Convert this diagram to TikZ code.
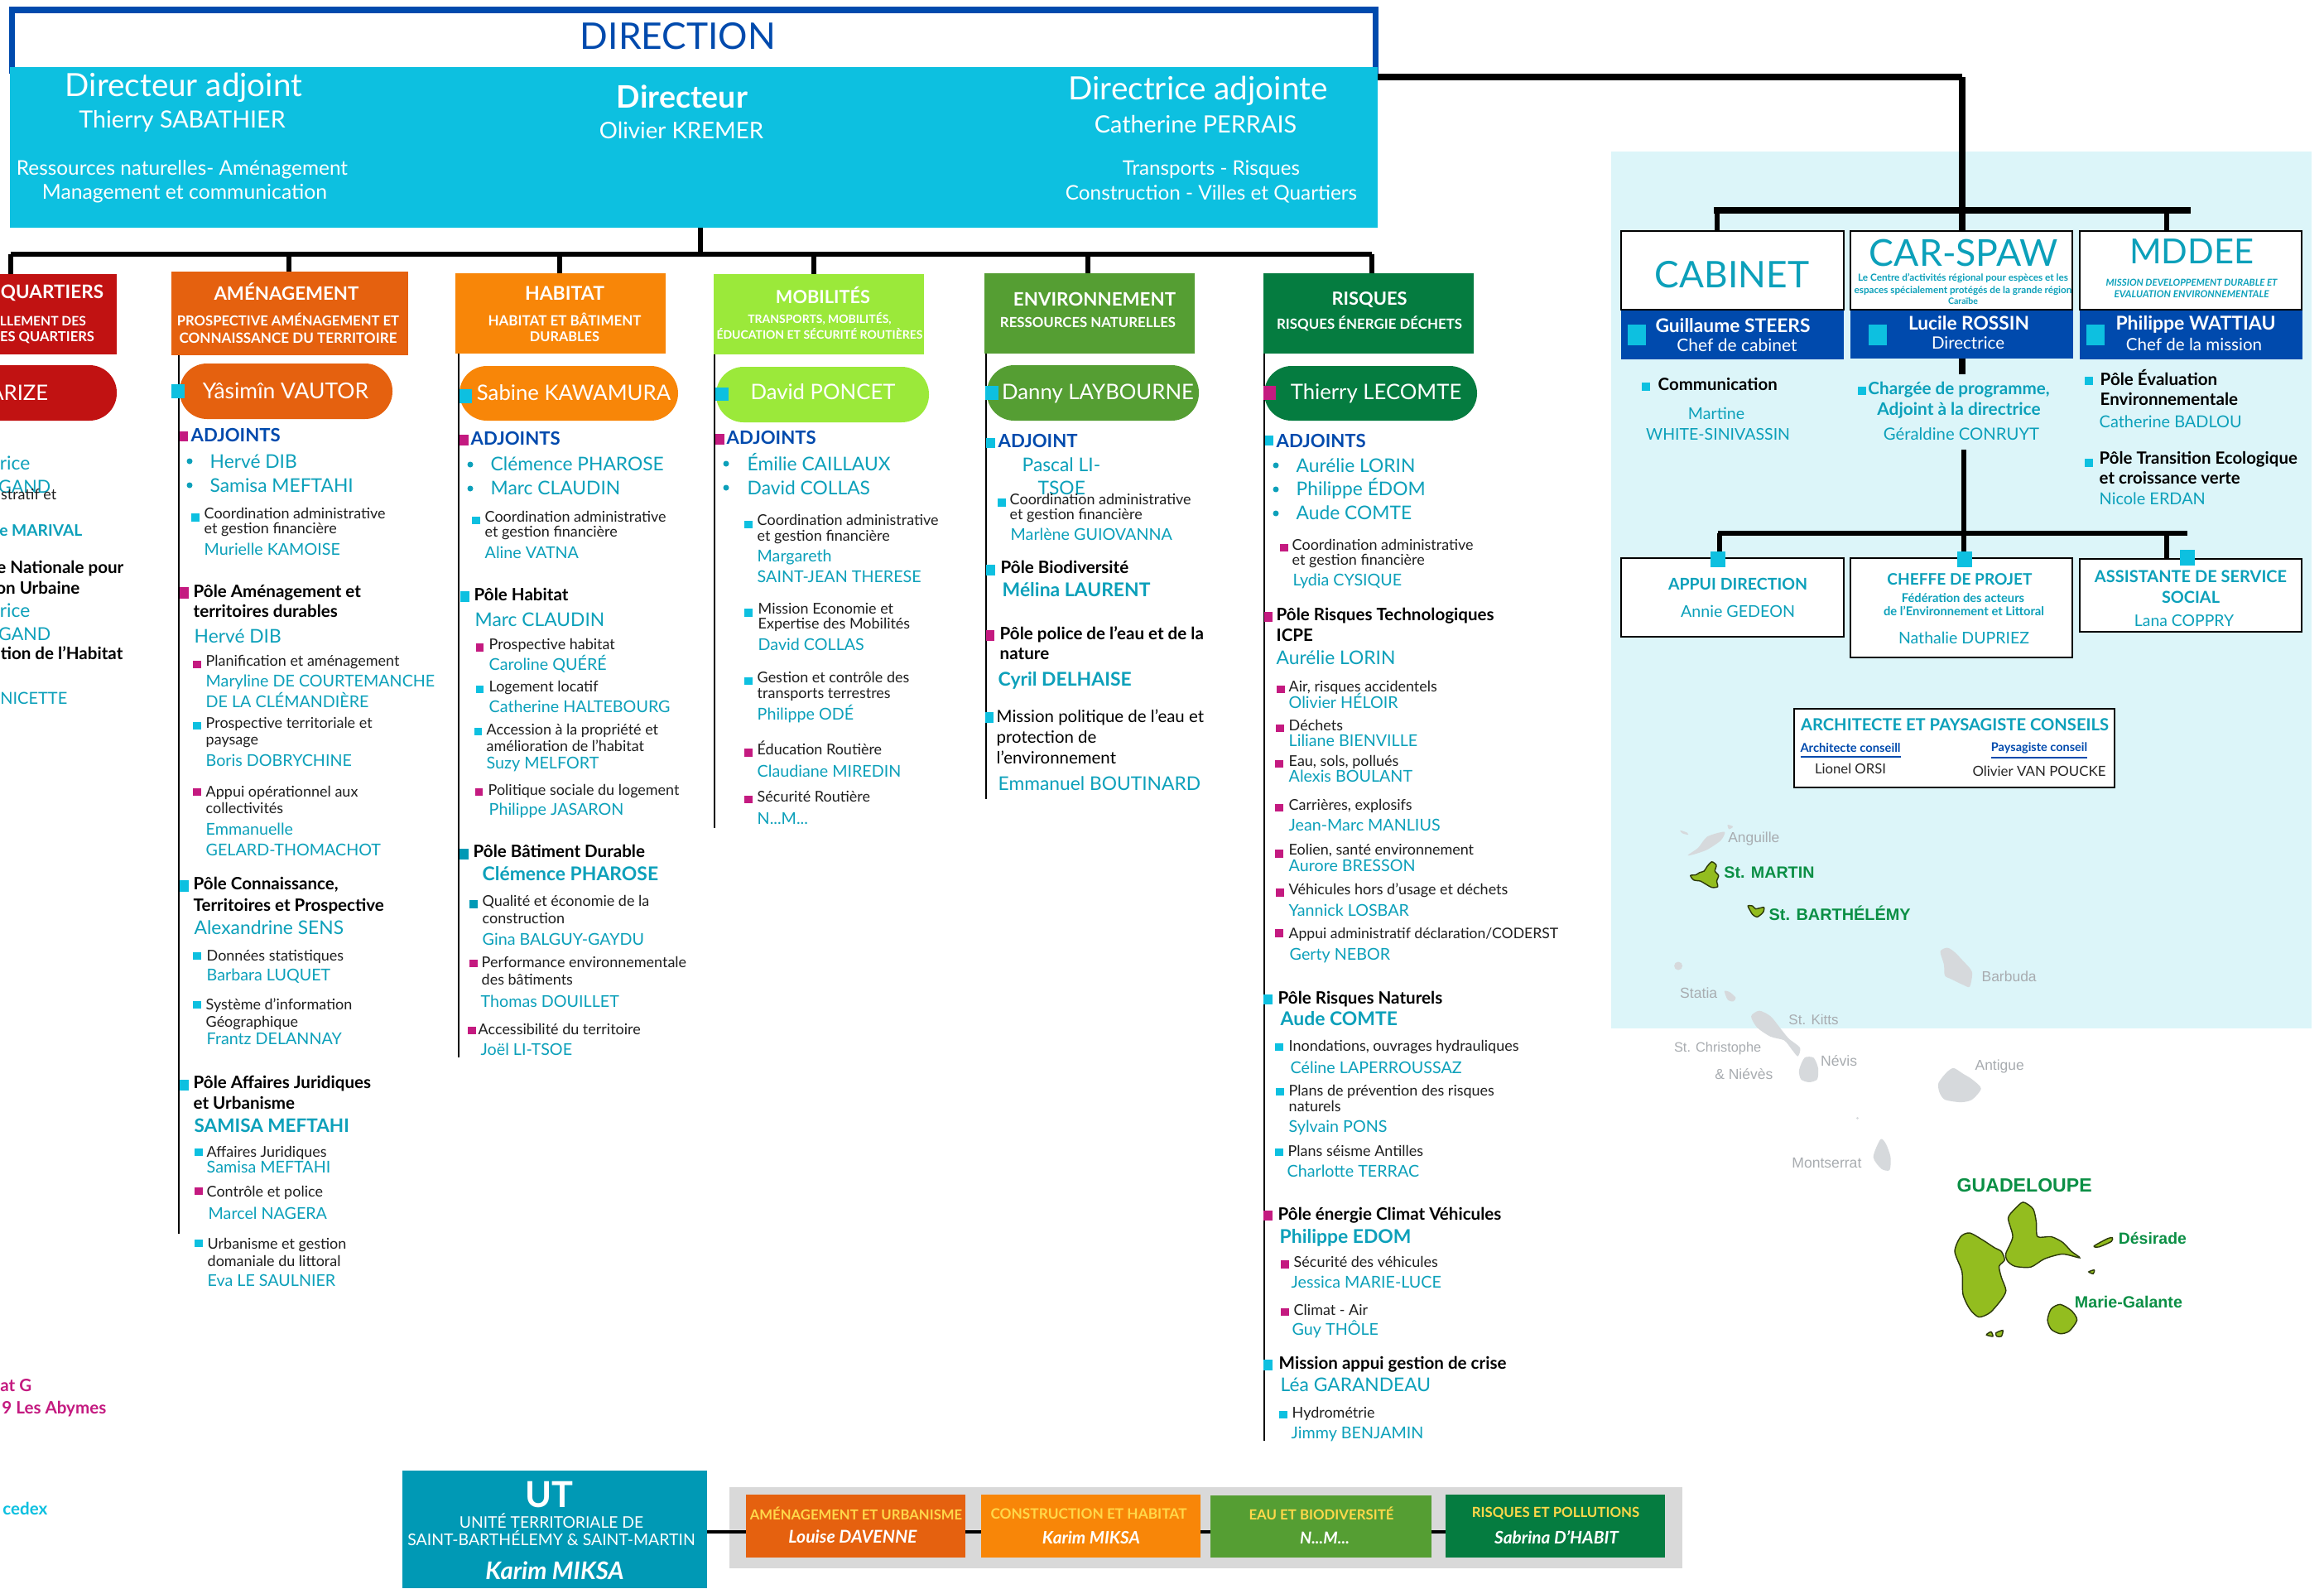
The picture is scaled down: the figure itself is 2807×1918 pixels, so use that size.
\documentclass[tikz,border=0pt]{standalone}
\usepackage{fontspec}
\setmainfont{Lato}
\newfontfamily\mapfont{Liberation Sans}
\definecolor{ccyan}{HTML}{0DC0E0}
\definecolor{cblue}{HTML}{004AAD}
\definecolor{cteal}{HTML}{0CA0BA}
\definecolor{cmag}{HTML}{C41A80}
\definecolor{cred}{HTML}{C11212}
\definecolor{corg}{HTML}{E5610F}
\definecolor{corb}{HTML}{F88608}
\definecolor{clime}{HTML}{9BE93A}
\definecolor{cgrn}{HTML}{559E33}
\definecolor{cdgr}{HTML}{057C40}
\definecolor{cut}{HTML}{0099B5}
\definecolor{cbg}{HTML}{DCF5F9}
\definecolor{cgray}{HTML}{D9D9D9}
\definecolor{cyel}{HTML}{FFD84A}
\definecolor{cisl}{HTML}{D6D9DC}
\definecolor{cisg}{HTML}{93BD1F}
\definecolor{cmapg}{HTML}{0B8F45}
\definecolor{cmapn}{HTML}{A8ACB0}
\newsavebox\fitbox
\newcommand\fitsize[2]{\sbox\fitbox{\fontsize{10}{10}\selectfont #2}\edef\fitsz{\fpeval{round(10*#1*0.28453/\the\wd\fitbox,2)}}\fontsize{\fitsz}{\fitsz}\selectfont}
\newcommand\fitT[2]{\fitsize{#1}{#2}#2}
\newcounter{tn}
\newcommand\Bx[6]{\pgfmathsetmacro\bw{(#4-#2)*0.01}\pgfmathsetmacro\bh{(#5-#3)*0.01}\node[#6,inner sep=0,outer sep=0,minimum width=\bw cm,minimum height=\bh cm] (#1) at ({(#2+#4)/2},{(#3+#5)/2}) {};}
\newcommand\Ct[5]{\stepcounter{tn}\node[#1,inner sep=0,anchor=center] (t\arabic{tn}) at (#2,#3) {\fitT{#4}{#5}};}
\newcommand\Tx[4]{\stepcounter{tn}\node[#1] (t\arabic{tn}) at (#2,#3) {#4};}
\newcommand\tLab[3]{\Tx{lab}{#1}{#2}{#3}}
\newcommand\tNam[3]{\Tx{nm}{#1}{#2}{#3}}
\newcommand\tHd[3]{\Tx{hd}{#1}{#2}{#3}}
\newcommand\tBig[3]{\Tx{bign}{#1}{#2}{#3}}
\newcommand\tLd[3]{\Tx{lead}{#1}{#2}{#3}}
\newcommand\tAdj[3]{\Tx{adj}{#1}{#2}{#3}}
\newcommand\Sq[5]{\fill[#1] (#2,#3) rectangle (#4,#5);}
\newcommand\Bul[2]{\fill[cteal] (#1,#2) circle[radius=3.5];}
\newcommand\Isl[2]{\fill[#1] plot[smooth cycle,tension=.45] coordinates {#2};}
\tikzset{
 lab/.style={anchor=base west,inner sep=0,text=black!88,font=\fitsize{219}{Coordination administrative}},
 nm/.style={anchor=base west,inner sep=0,text=cteal,font=\fitsize{164}{Murielle KAMOISE}},
 hd/.style={anchor=base west,inner sep=0,text=black,font=\bfseries\fitsize{230}{Territoires et Prospective}},
 bign/.style={anchor=base west,inner sep=0,text=cteal,font=\fitsize{173}{Samisa MEFTAHI}},
 lead/.style={anchor=base west,inner sep=0,text=cteal,font=\bfseries\fitsize{184}{Alexandrine SENS}},
 adj/.style={anchor=base west,inner sep=0,text=cblue,font=\bfseries\fitsize{108}{ADJOINTS}},
 wht/.style={text=white},
 whb/.style={text=white,font=\bfseries},
 tl/.style={text=cteal},
 tlb/.style={text=cteal,font=\bfseries},
 pill/.style={fill=#1,rounded corners=9.4pt},
 pilltx/.style={text=white,inner sep=0,anchor=center,font=\fitsize{234}{Sabine KAWAMURA}},
 conn/.style={draw=black,line width=1.6pt},
 heavy/.style={draw=black,line width=2.3pt},
 vline/.style={draw=black,line width=.75pt},
 wbox/.style={draw=black,fill=white,line width=.8pt},
 mapg/.style={text=cmapg,font=\mapfont\bfseries},
 mapn/.style={text=cmapn,font=\mapfont},
 gisl/.style={cisg,draw=black!70!cisg,line width=.4pt},
}
\begin{document}
\begin{tikzpicture}[x=0.01cm,y=-0.01cm]
\useasboundingbox (0,0) rectangle (2807,1918);
\fill[white] (0,0) rectangle (2807,1918);
\path[clip] (0,0) rectangle (2807,1918);
% light panel
\Bx{panel}{1946}{183}{2792}{1242}{fill=cbg}
% direction
\Bx{dirtitle}{15}{12}{1661}{85}{draw=cblue,fill=white,line width=2pt}
\Bx{dirbox}{12}{81}{1664}{275}{fill=ccyan}
\Ct{text=cblue}{819}{44}{236}{DIRECTION}
\Ct{wht}{222}{106}{286}{Directeur adjoint}
\Ct{wht}{220}{146}{249}{Thierry SABATHIER}
\Ct{wht}{220}{205}{400}{Ressources naturelles- Aménagement}
\Ct{wht}{223}{234}{344}{Management et communication}
\Ct{whb}{824}{117}{158}{Directeur}
\Ct{wht}{823}{157}{198}{Olivier KREMER}
\Ct{wht}{1447}{110}{313}{Directrice adjointe}
\Ct{wht}{1444}{150}{244}{Catherine PERRAIS}
\Ct{wht}{1463}{205}{214}{Transports - Risques}
\Ct{wht}{1463}{234}{352}{Construction - Villes et Quartiers}
% headers
\Bx{hvil}{-60}{331}{141}{428}{fill=cred}
\Bx{hamen}{207}{328}{493}{429}{fill=corg}
\Bx{hhab}{550}{330}{804}{427}{fill=corb}
\Bx{hmob}{862}{331}{1116}{428}{fill=clime}
\Bx{henv}{1189}{330}{1443}{427}{fill=cgrn}
\Bx{hris}{1526}{330}{1780}{427}{fill=cdgr}
% bus
\coordinate (busL) at (13,307);
\coordinate (busR) at (1657,307);
\coordinate (dirhub) at (846,307);
\coordinate (dv) at (13,307);
\coordinate (da) at (349,307);
\coordinate (dh) at (676,307);
\coordinate (dm) at (983,307);
\coordinate (de) at (1314,307);
\coordinate (dr) at (1657,307);
\draw[conn] (dirhub |- dirbox.south) -- (dirhub);
\draw[conn] (busL) -- (busR);
\draw[conn] (dv) -- (dv |- hvil.north);
\draw[conn] (da) -- (da |- hamen.north);
\draw[conn] (dh) -- (dh |- hhab.north);
\draw[conn] (dm) -- (dm |- hmob.north);
\draw[conn] (de) -- (de |- henv.north);
\draw[conn] (dr) -- (dr |- hris.north);
% column rules
\coordinate (va) at (216,1490);
\coordinate (vh) at (554,1277);
\coordinate (vm) at (863,1000);
\coordinate (ve) at (1191,965);
\coordinate (vr) at (1527,1740);
\draw[vline] (va |- hamen.south) -- (va);
\draw[vline] (vh |- hhab.south) -- (vh);
\draw[vline] (vm |- hmob.south) -- (vm);
\draw[vline] (ve |- henv.south) -- (ve);
\draw[vline] (vr |- hris.south) -- (vr);
% header text
\Ct{whb}{63}{354}{124}{QUARTIERS}
\Ct{whb}{52}{388}{104}{LLEMENT DES}
\Ct{whb}{57}{408}{114}{ES QUARTIERS}
\Ct{whb}{346}{352}{175}{AMÉNAGEMENT}
\Ct{whb}{348}{386}{268}{PROSPECTIVE AMÉNAGEMENT ET}
\Ct{whb}{348}{408}{263}{CONNAISSANCE DU TERRITOIRE}
\Ct{whb}{682}{354}{96}{HABITAT}
\Ct{whb}{682}{386}{185}{HABITAT ET BÂTIMENT}
\Ct{whb}{682}{407}{84}{DURABLES}
\Ct{whb}{994}{356}{114}{MOBILITÉS}
\Ct{whb}{990}{385}{173}{TRANSPORTS, MOBILITÉS,}
\Ct{whb}{990}{403}{249}{ÉDUCATION ET SÉCURITÉ ROUTIÈRES}
\Ct{whb}{1322}{361}{196}{ENVIRONNEMENT}
\Ct{whb}{1314}{389}{212}{RESSOURCES NATURELLES}
\Ct{whb}{1654}{362}{91}{RISQUES}
\Ct{whb}{1654}{391}{224}{RISQUES ÉNERGIE DÉCHETS}
% pills
\Bx{p1}{-60}{441}{141}{508}{pill=cred}
\Bx{p2}{217}{439}{474}{506}{pill=corg}
\Bx{p3}{555}{442}{819}{508}{pill=corb}
\Bx{p4}{865}{443}{1122}{510}{pill=clime}
\Bx{p5}{1192}{441}{1448}{508}{pill=cgrn}
\Bx{p6}{1527}{442}{1784}{508}{pill=cdgr}
\Tx{pilltx,anchor=east}{59}{474}{ARIZE}
\Tx{pilltx,font=\fitsize{200}{Yâsimîn VAUTOR}}{345}{472}{Yâsimîn VAUTOR}
\Tx{pilltx}{693}{474}{Sabine KAWAMURA}
\Tx{pilltx}{994}{473}{David PONCET}
\Tx{pilltx}{1326}{475}{Danny LAYBOURNE}
\Tx{pilltx}{1662}{475}{Thierry LECOMTE}
\Sq{ccyan}{207}{464}{223}{481}
\Sq{ccyan}{555}{470}{570}{487}
\Sq{ccyan}{864}{468}{880}{484}
\Sq{ccyan}{1190}{466}{1206}{483}
\Sq{cmag}{1526}{466}{1541}{483}
% left cropped column
\Tx{bign,anchor=base east}{37}{567}{rice}
\Tx{bign,anchor=base east,font=\fitsize{63}{GAND}}{62}{595}{GAND}
\Tx{lab,anchor=base east}{69}{603}{istratif et}
\Tx{lead,anchor=base east,font=\bfseries\fitsize{100}{e MARIVAL}}{100}{647}{e MARIVAL}
\Tx{hd,anchor=base east}{150}{692}{e Nationale pour}
\Tx{hd,anchor=base east}{97}{717}{on Urbaine}
\Tx{bign,anchor=base east}{37}{745}{rice}
\Tx{bign,anchor=base east,font=\fitsize{63}{GAND}}{62}{773}{GAND}
\Tx{hd,anchor=base east}{149}{796}{tion de l’Habitat}
\Tx{bign,anchor=base east,font=\fitsize{81}{NICETTE}}{82}{850}{NICETTE}
\Tx{hd,anchor=base east,text=cmag}{39}{1680}{at G}
\Tx{hd,anchor=base east,text=cmag}{129}{1707}{9 Les Abymes}
\Tx{hd,anchor=base east,text=ccyan}{58}{1829}{cedex}
% AMENAGEMENT column
\Sq{cmag}{217}{521}{227}{533}\tAdj{230}{533}{ADJOINTS}
\Bul{229}{557}\tBig{253}{565}{Hervé DIB}
\Bul{229}{586}\tBig{253}{594}{Samisa MEFTAHI}
\Sq{ccyan}{231}{620}{241}{630}\tLab{246}{626}{Coordination administrative}
\tLab{246}{644}{et gestion financière}\tNam{246}{670}{Murielle KAMOISE}
\Sq{cmag}{217}{709}{228}{723}\tHd{233}{721}{Pôle Aménagement et}\tHd{233}{745}{territoires durables}
\tBig{234}{776}{Hervé DIB}
\Sq{cmag}{233}{798}{243}{807}\tLab{248}{804}{Planification et aménagement}
\tNam{248}{829}{Maryline DE COURTEMANCHE}\tNam{248}{854}{DE LA CLÉMANDIÈRE}
\Sq{ccyan}{233}{872}{243}{881}\tLab{248}{879}{Prospective territoriale et}\tLab{248}{899}{paysage}
\tNam{248}{925}{Boris DOBRYCHINE}
\Sq{cmag}{233}{952}{243}{961}\tLab{248}{962}{Appui opérationnel aux}\tLab{248}{982}{collectivités}
\tNam{248}{1008}{Emmanuelle}\tNam{248}{1033}{GELARD-THOMACHOT}
\Sq{ccyan}{217}{1063}{228}{1077}\tHd{233}{1074}{Pôle Connaissance,}\tHd{233}{1100}{Territoires et Prospective}
\tBig{234}{1128}{Alexandrine SENS}
\Sq{ccyan}{233}{1150}{243}{1159}\tLab{249}{1160}{Données statistiques}\tNam{249}{1184}{Barbara LUQUET}
\Sq{ccyan}{233}{1209}{243}{1218}\tLab{248}{1219}{Système d’information}\tLab{248}{1240}{Géographique}\tNam{249}{1261}{Frantz DELANNAY}
\Sq{ccyan}{217}{1304}{228}{1317}\tHd{233}{1314}{Pôle Affaires Juridiques}\tHd{233}{1339}{et Urbanisme}
\Tx{lead,font=\bfseries\fitsize{187}{SAMISA MEFTAHI}}{234}{1367}{SAMISA MEFTAHI}
\Sq{ccyan}{235}{1387}{245}{1396}\tLab{249}{1397}{Affaires Juridiques}\tNam{249}{1416}{Samisa MEFTAHI}
\Sq{cmag}{235}{1434}{245}{1443}\tLab{249}{1445}{Contrôle et police}\tNam{251}{1472}{Marcel NAGERA}
\Sq{ccyan}{235}{1497}{245}{1506}\tLab{250}{1508}{Urbanisme et gestion}\tLab{250}{1529}{domaniale du littoral}\tNam{250}{1553}{Eva LE SAULNIER}
% HABITAT column
\Sq{cmag}{555}{525}{566}{538}\tAdj{568}{537}{ADJOINTS}
\Bul{568}{561}\tBig{592}{568}{Clémence PHAROSE}
\Bul{568}{590}\tBig{592}{597}{Marc CLAUDIN}
\Sq{ccyan}{570}{624}{580}{633}\tLab{585}{630}{Coordination administrative}\tLab{585}{648}{et gestion financière}\tNam{585}{674}{Aline VATNA}
\Sq{ccyan}{556}{714}{567}{727}\tHd{572}{725}{Pôle Habitat}\tBig{573}{756}{Marc CLAUDIN}
\Sq{cmag}{575}{777}{584}{787}\tLab{590}{784}{Prospective habitat}\tNam{590}{809}{Caroline QUÉRÉ}
\Sq{ccyan}{575}{828}{584}{837}\tLab{590}{835}{Logement locatif}\tNam{590}{860}{Catherine HALTEBOURG}
\Sq{ccyan}{573}{879}{582}{888}\tLab{587}{887}{Accession à la propriété et}\tLab{587}{907}{amélioration de l’habitat}\tNam{587}{928}{Suzy MELFORT}
\Sq{cmag}{574}{952}{583}{961}\tLab{589}{960}{Politique sociale du logement}\tNam{590}{984}{Philippe JASARON}
\Sq{cut}{555}{1025}{566}{1038}\tHd{571}{1035}{Pôle Bâtiment Durable}\tLd{582}{1063}{Clémence PHAROSE}
\Sq{cut}{567}{1087}{577}{1097}\tLab{582}{1094}{Qualité et économie de la}\tLab{582}{1115}{construction}\tNam{582}{1141}{Gina BALGUY-GAYDU}
\Sq{cmag}{567}{1159}{577}{1168}\tLab{581}{1168}{Performance environnementale}\tLab{581}{1189}{des bâtiments}\tNam{580}{1216}{Thomas DOUILLET}
\Sq{cmag}{565}{1240}{575}{1249}\tLab{577}{1249}{Accessibilité du territoire}\tNam{580}{1274}{Joël LI-TSOE}
% MOBILITES column
\Sq{cmag}{864}{524}{875}{537}\tAdj{877}{536}{ADJOINTS}
\Bul{877}{560}\tBig{902}{568}{Émilie CAILLAUX}
\Bul{877}{589}\tBig{902}{597}{David COLLAS}
\Sq{ccyan}{899}{629}{909}{638}\tLab{914}{634}{Coordination administrative}\tLab{914}{653}{et gestion financière}\tNam{914}{678}{Margareth}\tNam{914}{703}{SAINT-JEAN THERESE}
\Sq{ccyan}{899}{735}{909}{745}\tLab{915}{741}{Mission Economie et}\tLab{915}{759}{Expertise des Mobilités}\tNam{915}{785}{David COLLAS}
\Sq{ccyan}{899}{818}{909}{827}\tLab{914}{824}{Gestion et contrôle des}\tLab{914}{843}{transports terrestres}\tNam{914}{869}{Philippe ODÉ}
\Sq{cmag}{899}{904}{909}{914}\tLab{914}{911}{Éducation Routière}\tNam{914}{938}{Claudiane MIREDIN}
\Sq{cmag}{899}{961}{909}{970}\tLab{914}{968}{Sécurité Routière}\tNam{914}{995}{N...M...}
% ENVIRONNEMENT column
\Sq{ccyan}{1191}{529}{1202}{541}\tAdj{1205}{540}{ADJOINT}
\tBig{1234}{569}{Pascal LI-}\tBig{1253}{597}{TSOE}
\Sq{ccyan}{1205}{602}{1215}{612}\tLab{1219}{609}{Coordination administrative}\tLab{1219}{627}{et gestion financière}\tNam{1220}{652}{Marlène GUIOVANNA}
\Sq{ccyan}{1191}{682}{1202}{695}\tHd{1208}{692}{Pôle Biodiversité}\tLd{1210}{720}{Mélina LAURENT}
\Sq{cmag}{1191}{761}{1201}{774}\tHd{1207}{772}{Pôle police de l’eau et de la}\tHd{1207}{796}{nature}\tLd{1205}{828}{Cyril DELHAISE}
\Sq{ccyan}{1190}{860}{1200}{873}
\Tx{hd,font=\fitsize{224}{Territoires et Prospective}}{1203}{872}{Mission politique de l’eau et}
\Tx{hd,font=\fitsize{224}{Territoires et Prospective}}{1203}{897}{protection de}
\Tx{hd,font=\fitsize{224}{Territoires et Prospective}}{1203}{922}{l’environnement}
\tBig{1205}{954}{Emmanuel BOUTINARD}
% RISQUES column
\Sq{ccyan}{1528}{526}{1538}{538}\tAdj{1541}{540}{ADJOINTS}
\Bul{1541}{562}\tBig{1565}{570}{Aurélie LORIN}
\Bul{1541}{591}\tBig{1565}{598}{Philippe ÉDOM}
\Bul{1541}{620}\tBig{1565}{627}{Aude COMTE}
\Sq{cmag}{1546}{657}{1556}{666}\tLab{1560}{664}{Coordination administrative}\tLab{1560}{682}{et gestion financière}\tNam{1561}{707}{Lydia CYSIQUE}
\Sq{cmag}{1527}{739}{1537}{751}\tHd{1541}{749}{Pôle Risques Technologiques}\tHd{1541}{774}{ICPE}\tBig{1541}{802}{Aurélie LORIN}
\Sq{cmag}{1542}{828}{1552}{837}\tLab{1556}{835}{Air, risques accidentels}\tNam{1556}{855}{Olivier HÉLOIR}
\Sq{cmag}{1541}{875}{1551}{884}\tLab{1556}{882}{Déchets}\tNam{1556}{901}{Liliane BIENVILLE}
\Sq{cmag}{1540}{918}{1550}{927}\tLab{1556}{925}{Eau, sols, pollués}\tNam{1556}{944}{Alexis BOULANT}
\Sq{cmag}{1540}{971}{1550}{980}\tLab{1556}{978}{Carrières, explosifs}\tNam{1556}{1003}{Jean-Marc MANLIUS}
\Sq{cmag}{1540}{1026}{1550}{1036}\tLab{1556}{1032}{Eolien, santé environnement}\tNam{1556}{1052}{Aurore BRESSON}
\Sq{cmag}{1541}{1073}{1551}{1083}\tLab{1556}{1080}{Véhicules hors d’usage et déchets}\tNam{1556}{1106}{Yannick LOSBAR}
\Sq{cmag}{1540}{1122}{1550}{1132}\Tx{lab,font=\fitsize{325}{Appui administratif déclaration/CODERST}}{1556}{1133}{Appui administratif déclaration/CODERST}\tNam{1557}{1159}{Gerty NEBOR}
\Sq{ccyan}{1526}{1201}{1537}{1213}\tHd{1543}{1212}{Pôle Risques Naturels}\tLd{1546}{1238}{Aude COMTE}
\Sq{ccyan}{1540}{1260}{1550}{1269}\tLab{1556}{1269}{Inondations, ouvrages hydrauliques}\tNam{1558}{1296}{Céline LAPERROUSSAZ}
\Sq{ccyan}{1541}{1314}{1551}{1323}\tLab{1556}{1323}{Plans de prévention des risques}\tLab{1556}{1342}{naturels}\tNam{1556}{1367}{Sylvain PONS}
\Sq{ccyan}{1540}{1387}{1550}{1396}\tLab{1555}{1396}{Plans séisme Antilles}\tNam{1554}{1421}{Charlotte TERRAC}
\Sq{cmag}{1526}{1462}{1537}{1474}\tHd{1543}{1473}{Pôle énergie Climat Véhicules}\tLd{1545}{1501}{Philippe EDOM}
\Sq{cmag}{1547}{1522}{1557}{1532}\tLab{1562}{1530}{Sécurité des véhicules}\tNam{1559}{1555}{Jessica MARIE-LUCE}
\Sq{cmag}{1547}{1580}{1557}{1589}\tLab{1562}{1588}{Climat - Air}\tNam{1560}{1612}{Guy THÔLE}
\Sq{ccyan}{1526}{1642}{1537}{1655}\tHd{1544}{1653}{Mission appui gestion de crise}\tBig{1546}{1680}{Léa GARANDEAU}
\Sq{ccyan}{1545}{1704}{1555}{1713}\tLab{1560}{1712}{Hydrométrie}\tNam{1559}{1737}{Jimmy BENJAMIN}
% right panel boxes
\Bx{cabbox}{1958}{279}{2227}{374}{wbox}
\Bx{carbox}{2235}{279}{2503}{374}{wbox}
\Bx{mddbox}{2512}{279}{2780}{374}{wbox}
\Bx{cabband}{1958}{375}{2227}{434}{fill=cblue}
\Bx{carband}{2235}{375}{2504}{433}{fill=cblue}
\Bx{mddband}{2512}{375}{2781}{434}{fill=cblue}
\Bx{appbox}{1958}{674}{2227}{769}{wbox}
\Bx{chefbox}{2235}{674}{2503}{794}{wbox}
\Bx{assbox}{2512}{675}{2780}{763}{wbox}
\Bx{archbox}{2167}{856}{2554}{951}{wbox}
% right connectors
\coordinate (cjoin) at (2370,93);
\coordinate (rL) at (2070,254);
\coordinate (rR) at (2646,254);
\coordinate (rdL) at (2074,254);
\coordinate (rdR) at (2617,254);
\coordinate (carsub) at (2370,452);
\coordinate (low0) at (2372,543);
\coordinate (lowL) at (2075,644);
\coordinate (lowR) at (2642,644);
\coordinate (ldL) at (2077,644);
\coordinate (ldR) at (2617,644);
\draw[heavy] (dirbox.east |- cjoin) -- (cjoin);
\draw[heavy] (cjoin) -- (cjoin |- carbox.north);
\draw[heavy] (rL) -- (rR);
\draw[conn,line width=1.9pt] (rdL) -- (rdL |- cabbox.north);
\draw[conn,line width=1.9pt] (rdR) -- (rdR |- mddbox.north);
\draw[heavy] (carsub |- carband.south) -- (carsub);
\draw[conn,line width=1.9pt] (low0) -- (low0 |- chefbox.north);
\draw[conn,line width=1.9pt] (lowL) -- (lowR);
\draw[conn,line width=1.9pt] (ldL) -- (ldL |- appbox.north);
\draw[conn,line width=1.9pt] (ldR) -- (ldR |- assbox.north);
\Sq{ccyan}{2066}{666}{2084}{685}
\Sq{ccyan}{2364}{666}{2382}{685}
\Sq{ccyan}{2633}{664}{2651}{683}
\Sq{ccyan}{1966}{392}{1988}{417}
\Sq{ccyan}{2257}{392}{2279}{417}
\Sq{ccyan}{2520}{392}{2542}{417}
% right panel text
\Ct{tl}{2092}{332}{186}{CABINET}
\Ct{tl}{2372}{305}{228}{CAR-SPAW}
\Ct{tlb}{2371}{336}{254}{Le Centre d’activités régional pour espèces et les}
\Ct{tlb}{2371}{351}{263}{espaces spécialement protégés de la grande région}
\Ct{tlb}{2371}{364}{36}{Caraïbe}
\Ct{tl}{2647}{304}{150}{MDDEE}
\Ct{tlb,font=\bfseries\itshape}{2647}{341}{207}{MISSION DEVELOPPEMENT DURABLE ET}
\Ct{tlb,font=\bfseries\itshape}{2647}{355}{187}{EVALUATION ENVIRONNEMENTALE}
\Ct{whb}{2093}{393}{187}{Guillaume STEERS}
\Ct{wht}{2098}{417}{145}{Chef de cabinet}
\Ct{whb}{2378}{390}{146}{Lucile ROSSIN}
\Ct{wht}{2377}{414}{88}{Directrice}
\Ct{whb}{2652}{392}{193}{Philippe WATTIAU}
\Ct{wht}{2650}{416}{164}{Chef de la mission}
\Sq{ccyan}{1983}{462}{1993}{472}
\Tx{hd,font=\bfseries\fitsize{144}{Communication}}{2002}{471}{Communication}
\Ct{tl}{2073}{499}{68}{Martine}
\Ct{tl}{2075}{524}{174}{WHITE-SINIVASSIN}
\Sq{ccyan}{2244}{467}{2254}{477}
\Ct{tlb}{2366}{471}{219}{Chargée de programme,}
\Ct{tlb}{2366}{496}{197}{Adjoint à la directrice}
\Ct{tl}{2369}{524}{188}{Géraldine CONRUYT}
\Sq{ccyan}{2518}{455}{2528}{465}
\tHd{2536}{465}{Pôle Évaluation}\tHd{2536}{489}{Environnementale}
\Tx{nm,font=\fitsize{172}{Catherine BADLOU}}{2535}{516}{Catherine BADLOU}
\Sq{ccyan}{2518}{554}{2528}{564}
\Tx{hd,font=\bfseries\fitsize{239}{Pôle Transition Ecologique}}{2535}{560}{Pôle Transition Ecologique}
\Tx{hd,font=\bfseries\fitsize{239}{Pôle Transition Ecologique}}{2535}{584}{et croissance verte}
\Tx{nm,font=\fitsize{172}{Catherine BADLOU}}{2535}{609}{Nicole ERDAN}
\Ct{tlb}{2099}{705}{168}{APPUI DIRECTION}
\Ct{tl}{2099}{738}{138}{Annie GEDEON}
\Ct{tlb}{2367}{700}{175}{CHEFFE DE PROJET}
\Ct{tlb}{2371}{722}{148}{Fédération des acteurs}
\Ct{tlb}{2372}{738}{194}{de l’Environnement et Littoral}
\Ct{tl}{2372}{770}{158}{Nathalie DUPRIEZ}
\Ct{tlb}{2646}{696}{232}{ASSISTANTE DE SERVICE}
\Ct{tlb}{2646}{721}{70}{SOCIAL}
\Ct{tl}{2638}{750}{120}{Lana COPPRY}
\Ct{tlb}{2361}{875}{372}{ARCHITECTE ET PAYSAGISTE CONSEILS}
\Ct{text=cblue,font=\bfseries}{2235}{907}{121}{\underline{Architecte conseill}}
\Ct{text=cblue,font=\bfseries}{2463}{907}{116}{\underline{Paysagiste conseil}}
\Ct{text=black!85}{2235}{928}{86}{Lionel ORSI}
\Ct{text=black!85}{2463}{931}{161}{Olivier VAN POUCKE}
% bottom band
\Bx{utbox}{486}{1776}{854}{1918}{fill=cut}
\Bx{grayband}{881}{1796}{2032}{1894}{fill=cgray}
\coordinate (bline) at (1746,1850);
\draw[draw=black,line width=.9pt] (utbox.east |- bline) -- (bline);
\Bx{b1}{901}{1805}{1166}{1881}{fill=corg}
\Bx{b2}{1185}{1805}{1450}{1881}{fill=corb}
\Bx{b3}{1462}{1806}{1729}{1881}{fill=cgrn}
\Bx{b4}{1746}{1805}{2011}{1881}{fill=cdgr}
\Ct{whb}{663}{1805}{58}{UT}
\Ct{wht}{666}{1837}{222}{UNITÉ TERRITORIALE DE}
\Ct{wht}{666}{1858}{347}{SAINT-BARTHÉLEMY \& SAINT-MARTIN}
\Ct{whb,font=\bfseries\itshape}{670}{1897}{167}{Karim MIKSA}
\Ct{text=cyel,font=\bfseries}{1034}{1828}{256}{AMÉNAGEMENT ET URBANISME}
\Ct{text=cyel,font=\bfseries}{1315}{1828}{237}{CONSTRUCTION ET HABITAT}
\Ct{text=cyel,font=\bfseries}{1596}{1828}{175}{EAU ET BIODIVERSITÉ}
\Ct{text=cyel,font=\bfseries}{1879}{1828}{202}{RISQUES ET POLLUTIONS}
\Ct{whb,font=\bfseries\itshape}{1030}{1856}{155}{Louise DAVENNE}
\Ct{whb,font=\bfseries\itshape}{1318}{1857}{118}{Karim MIKSA}
\Ct{whb,font=\bfseries\itshape}{1600}{1857}{60}{N...M...}
\Ct{whb,font=\bfseries\itshape}{1880}{1857}{150}{Sabrina D’HABIT}
% map
\begin{scope}[shift={(1950,950)},x=0.005464cm,y=-0.004464cm]
\Isl{cisl}{(162,185)(185,165)(205,135)(243,122)(235,145)(205,170)(175,183)}
\Isl{cisl}{(145,118)(160,124)(163,130)(150,126)}
\Isl{cisl}{(250,103)(262,108)(253,115)}
\Isl{gisl}{(168,240)(180,238)(188,232)(198,228)(205,215)(215,203)(225,212)(222,228)(230,240)(226,255)(228,270)(215,272)(200,262)(190,255)(175,252)}
\Isl{gisl}{(295,322)(305,322)(312,330)(330,326)(328,340)(315,352)(305,345)(300,335)}
\fill[cisl] (141,484) circle[radius=.05cm];
\Isl{cisl}{(243,552)(255,555)(268,570)(262,580)(250,575)}
\Isl{cisl}{(720,445)(735,435)(750,445)(770,470)(790,500)(785,540)(770,535)(745,520)(730,510)(728,480)}
\Isl{cisl}{(302,620)(320,605)(345,620)(365,650)(385,680)(410,705)(405,728)(392,710)(375,685)(345,675)(315,650)}
\Isl{cisl}{(408,765)(420,732)(440,732)(450,760)(448,790)(430,798)(412,790)}
\Isl{cisl}{(716,800)(735,770)(750,760)(770,775)(790,790)(810,815)(790,845)(765,852)(730,845)(718,825)}
\fill[cisl] (537,895) circle[radius=.015cm];
\Isl{cisl}{(572,1000)(588,952)(600,965)(610,1000)(608,1035)(590,1032)}
\Isl{gisl}{(752,1255)(765,1215)(785,1205)(815,1225)(840,1245)(855,1255)(862,1278)(850,1295)(855,1325)(865,1360)(855,1385)(830,1420)(805,1432)(785,1410)(770,1370)(768,1310)}
\Isl{gisl}{(865,1260)(880,1215)(870,1165)(885,1140)(903,1122)(925,1140)(932,1175)(935,1215)(965,1215)(990,1230)(1010,1255)(1028,1272)(990,1262)(950,1275)(920,1297)(885,1295)(868,1280)}
\Isl{gisl}{(1060,1240)(1090,1220)(1100,1218)(1098,1228)(1070,1243)}
\Isl{gisl}{(1048,1310)(1060,1305)(1058,1315)}
\Isl{gisl}{(957,1440)(965,1410)(985,1398)(1010,1415)(1022,1440)(1005,1470)(985,1477)(965,1465)}
\Isl{gisl}{(822,1480)(832,1472)(836,1484)}
\Isl{gisl}{(843,1475)(858,1468)(855,1484)(845,1484)}
\Ct{mapn}{308}{140}{62}{Anguille}
\Ct{mapg}{342}{232}{109}{St. MARTIN}
\Ct{mapg}{498}{342}{171}{St. BARTHÉLÉMY}
\Ct{mapn}{872}{513}{66}{Barbuda}
\Ct{mapn}{186}{558}{45}{Statia}
\Ct{mapn}{440}{628}{60}{St. Kitts}
\Ct{mapn}{228}{706}{105}{St. Christophe}
\Ct{mapn}{286}{775}{70}{\& Niévès}
\Ct{mapn}{496}{740}{44}{Névis}
\Ct{mapn}{851}{755}{59}{Antigue}
\Ct{mapn}{469}{1016}{84}{Montserrat}
\Ct{mapg}{906}{1077}{163}{GUADELOUPE}
\Ct{mapg}{1189}{1220}{82}{Désirade}
\Ct{mapg}{1136}{1391}{130}{Marie-Galante}
\end{scope}
\end{tikzpicture}
\end{document}
